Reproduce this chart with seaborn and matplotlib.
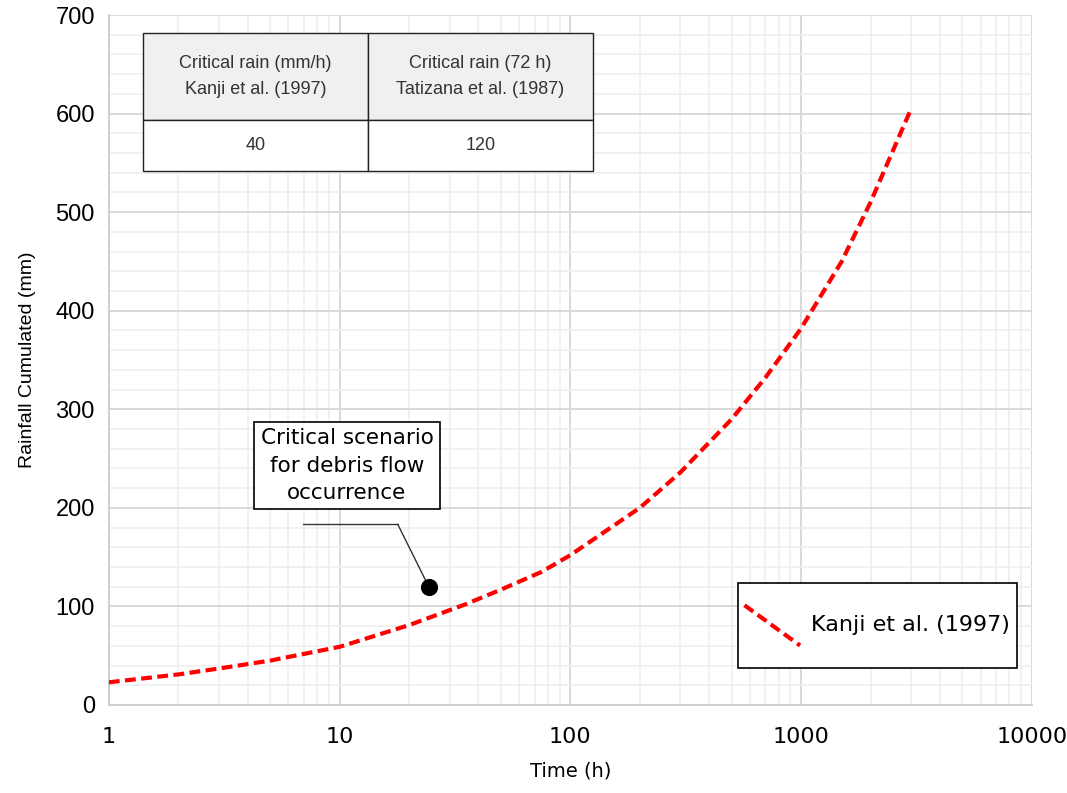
import numpy as np
import pandas as pd
import matplotlib
matplotlib.use("Agg")
import matplotlib.pyplot as plt
import seaborn as sns
from matplotlib.lines import Line2D
from matplotlib.legend_handler import HandlerBase
from matplotlib.ticker import FixedLocator, LogLocator, MultipleLocator, NullFormatter

# Kanji et al. (1997) critical curve
time_h = [1, 2, 3, 5, 10, 20, 35, 50, 75, 100, 200, 300, 500, 700, 1000, 1500, 2000, 3000]
rain_mm = [23, 31, 37, 45, 59, 81, 102, 117, 135, 152, 200, 236, 290, 332, 382, 450, 510, 605]

# critical scenario point
scenario_time = [24.4]
scenario_rain = [119.6]

x_ticks = [1, 10, 100, 1000, 10000]
x_tick_labels = ["1", "10", "100", "1000", "10000"]
y_ticks = [0, 100, 200, 300, 400, 500, 600, 700]

table_header = ["Critical rain (mm/h)\nKanji et al. (1997)", "Critical rain (72 h)\nTatizana et al. (1987)"]
table_values = ["40", "120"]

curve = pd.DataFrame({"time": time_h, "rain": rain_mm})
scenario = pd.DataFrame({"time": scenario_time, "rain": scenario_rain})


class DiagonalHandler(HandlerBase):
    """Legend handle drawn as a falling diagonal line."""
    def create_artists(self, legend, orig_handle, xdescent, ydescent,
                       width, height, fontsize, trans):
        line = Line2D([-xdescent, -xdescent + width],
                      [-ydescent + height * 0.78, -ydescent + height * 0.22])
        self.update_prop(line, orig_handle, legend)
        line.set_transform(trans)
        return [line]


sns.set_style("white")
plt.rcParams["text.color"] = "black"
plt.rcParams["axes.labelcolor"] = "black"
plt.rcParams["xtick.color"] = "black"
plt.rcParams["ytick.color"] = "black"

fig, ax = plt.subplots(figsize=(10.67, 7.93), dpi=100)
fig.subplots_adjust(left=0.102, right=0.967, top=0.981, bottom=0.111)

sns.lineplot(data=curve, x="time", y="rain", ax=ax, color="#ff0000", lw=3,
             label="Kanji et al. (1997)", zorder=3)
ax.lines[0].set_dashes((2.6, 1.3))
sns.scatterplot(data=scenario, x="time", y="rain", ax=ax, color="black",
                s=130, edgecolor="black", zorder=4, legend=False)

ax.set_xscale("log")
ax.set_xlim(1, 10000)
ax.set_ylim(0, 700)

ax.xaxis.set_major_locator(FixedLocator(x_ticks))
ax.set_xticklabels(x_tick_labels)
ax.xaxis.set_minor_locator(LogLocator(base=10, subs=np.arange(2, 10)))
ax.xaxis.set_minor_formatter(NullFormatter())
ax.set_yticks(y_ticks)
ax.yaxis.set_minor_locator(MultipleLocator(20))

ax.grid(which="major", color="#d9d9d9", lw=1.4)
ax.grid(which="minor", color="#eeeeee", lw=1.1)
ax.set_axisbelow(True)
for side in ["top", "right"]:
    ax.spines[side].set_visible(False)
for side in ["left", "bottom"]:
    ax.spines[side].set_color("#d0d0d0")
    ax.spines[side].set_linewidth(1.4)

ax.tick_params(axis="x", which="major", length=8, width=1.2, color="#cccccc",
               labelsize=16, pad=8, labelcolor="black")
ax.tick_params(axis="y", which="major", length=6, width=1.2, color="#cccccc",
               labelsize=17, pad=4, labelcolor="black")
ax.tick_params(which="minor", length=0)
for lbl in ax.get_yticklabels():
    lbl.set_fontfamily("Liberation Sans")

ax.set_xlabel("Time (h)", fontsize=14, labelpad=10, color="black")
ax.set_ylabel("Rainfall Cumulated (mm)", fontsize=14, fontfamily="Liberation Sans",
              labelpad=14, color="black")

# info table in the top-left corner
tbl = ax.table(cellText=[table_header, table_values], cellLoc="center",
               bbox=[0.0368, 0.774, 0.4875, 0.2], zorder=5)
tbl.auto_set_font_size(False)
for (r, c), cell in tbl.get_celld().items():
    cell.set_edgecolor("#222222")
    cell.set_linewidth(1.0)
    cell.set_height(0.126 if r == 0 else 0.074)
    cell.set_facecolor("#f0f0f0" if r == 0 else "white")
    cell.get_text().set_fontsize(13)
    cell.get_text().set_fontfamily("Liberation Sans")
    cell.get_text().set_color("#333333")
    cell.get_text().set_linespacing(1.65)

# annotation box and leader line
ax.text(0.258, 0.347, "Critical scenario\nfor debris flow\noccurrence",
        transform=ax.transAxes, ha="center", va="center", fontsize=15.5,
        linespacing=1.45, zorder=6,
        bbox=dict(boxstyle="square,pad=0.3", fc="white", ec="black", lw=1.2))
ax.plot([0.21, 0.313], [0.262, 0.262], transform=ax.transAxes, color="#333333", lw=1, zorder=4)
ax.annotate("", xy=(scenario_time[0], scenario_rain[0]), xytext=(0.313, 0.262),
            textcoords="axes fraction",
            arrowprops=dict(arrowstyle="-", color="#333333", lw=1, shrinkA=0, shrinkB=0))

handles, labels = ax.get_legend_handles_labels()
leg = ax.legend(handles, labels, loc="lower left", bbox_to_anchor=(0.6815, 0.0536),
                borderaxespad=0, fontsize=16, handlelength=2.5, handleheight=4.6,
                handletextpad=0.5, borderpad=0.3, fancybox=False, framealpha=1,
                edgecolor="black", handler_map={Line2D: DiagonalHandler()})
leg.get_frame().set_linewidth(1.2)

fig.savefig("out.png", dpi=100)
